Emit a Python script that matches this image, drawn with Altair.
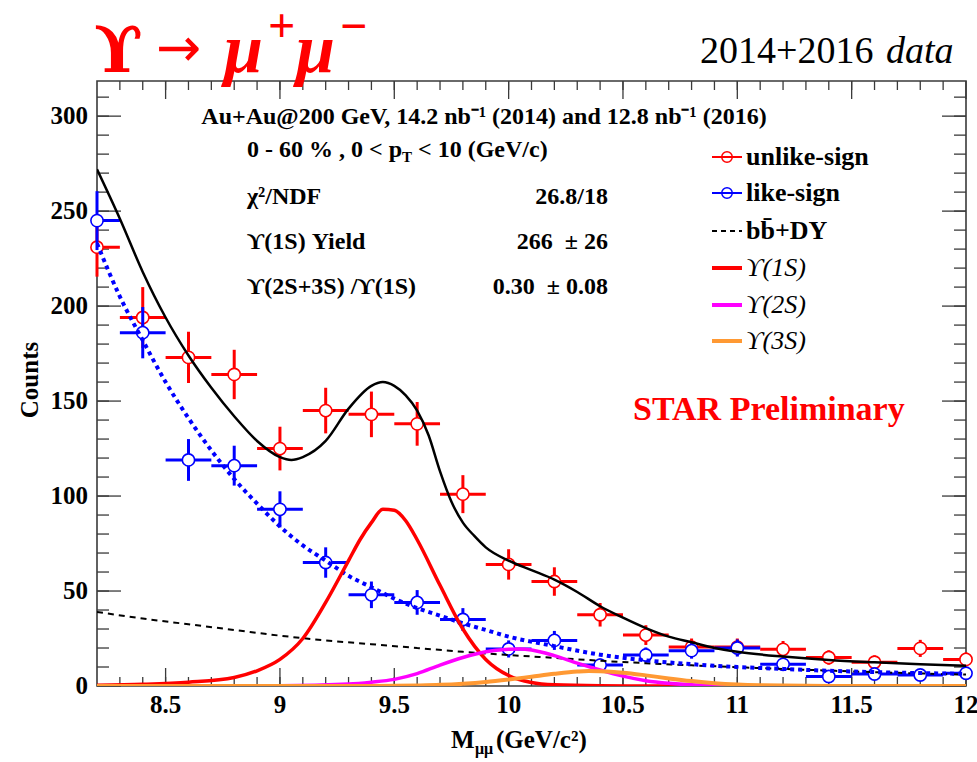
import altair as alt
import numpy as np
import pandas as pd

# ---------------------------------------------------------------------------
# Data: dimuon invariant-mass spectrum, Au+Au 200 GeV (2014 + 2016)
# ---------------------------------------------------------------------------
mass = [8.2, 8.4, 8.6, 8.8, 9.0, 9.2, 9.4, 9.6, 9.8, 10.0,
        10.2, 10.4, 10.6, 10.8, 11.0, 11.2, 11.4, 11.6, 11.8, 12.0]
half_bin = 0.1

unlike_counts = [231, 194, 173, 164, 125, 145, 143, 138, 101, 64,
                 55, 37.5, 26.8, 20.5, 20.5, 19.3, 15, 12.5, 19.8, 14]
unlike_err = [15.5, 16, 13.5, 13, 11.5, 12, 12, 11.5, 10, 8,
              7.5, 6.2, 5.2, 4.5, 4.5, 4.4, 3.8, 3.6, 4.5, 3.7]

like_counts = [245, 186, 119, 116, 93, 65, 48, 44, 35, 19.5,
               24, 11, 16.3, 18.6, 20, 11.4, 5, 6.3, 5.8, 6.7]
like_err = [15.5, 13.5, 11, 10.5, 9.5, 8, 7, 6.5, 6, 4.5,
            5, 3.5, 4, 4.2, 4.5, 3.5, 2.2, 2.5, 2.5, 2.6]

# Total fit
total_m = [8.2, 8.3, 8.4, 8.5, 8.6, 8.7, 8.8, 8.9, 9.0, 9.05, 9.1, 9.2, 9.3,
           9.4, 9.45, 9.5, 9.55, 9.6, 9.65, 9.7, 9.75, 9.8, 9.85, 9.9, 10.0,
           10.1, 10.2, 10.3, 10.4, 10.5, 10.6, 10.7, 10.8, 10.9, 11.0, 11.2,
           11.4, 11.6, 11.8, 12.0]
total_fit = [272, 246, 218, 194, 174, 157, 142, 129, 120.5, 119, 120.5, 129, 146,
             158, 160, 158, 153, 145, 132, 113, 97, 86, 79, 73, 66,
             61, 56, 49.5, 42, 36, 30.5, 26, 23, 20, 18, 15.5,
             13.7, 12.5, 11.5, 10.7]

# Like-sign background fit
like_fit_m = [8.2, 8.3, 8.4, 8.5, 8.6, 8.7, 8.8, 8.9, 9.0, 9.1, 9.2, 9.3, 9.4,
              9.5, 9.6, 9.7, 9.8, 9.9, 10.0, 10.2, 10.4, 10.6, 10.8, 11.0,
              11.2, 11.4, 11.6, 11.8, 12.0]
like_fit = [233, 205, 182, 160, 141, 124, 109, 96, 84, 74, 66, 58, 52,
            46, 41, 37, 33, 29.5, 26, 21, 16.5, 13.5, 11.5, 10,
            9, 8, 7.3, 6.8, 6.4]

# b-bbar + Drell-Yan
dy_m = [8.2, 8.4, 8.6, 8.8, 9.0, 9.2, 9.4, 9.6, 9.8, 10.0,
        10.2, 10.4, 10.6, 10.8, 11.0, 11.2, 11.4, 11.6, 11.8, 12.0]
dy_fit = [39, 35.5, 32.5, 29.5, 26.5, 24, 22, 20, 18, 16.3,
          14.8, 13.3, 12, 10.9, 9.9, 9, 8.1, 7.3, 6.6, 6]

# Upsilon states
u1_m = [8.2, 8.4, 8.6, 8.8, 8.9, 9.0, 9.1, 9.2, 9.3, 9.35, 9.4, 9.45, 9.5,
        9.55, 9.6, 9.7, 9.8, 9.9, 10.0, 10.1, 10.2, 10.4, 10.6, 11.0, 12.0]
u1_fit = [0.4, 0.9, 2, 4.5, 8, 14, 25, 44, 66, 77, 86, 93, 92.5,
          87, 77, 53, 30, 14, 5.5, 1.8, 0.6, 0.1, 0, 0, 0]

u2_m = [8.2, 9.0, 9.3, 9.4, 9.5, 9.6, 9.7, 9.8, 9.9, 10.0, 10.05, 10.1,
        10.2, 10.3, 10.4, 10.5, 10.6, 10.7, 10.8, 10.9, 11.0, 12.0]
u2_fit = [0, 0.1, 1.0, 2.0, 3.5, 6.5, 11, 15, 18, 19.3, 19.5, 19,
          16, 12, 8.4, 5.2, 2.8, 1.4, 0.6, 0.25, 0.1, 0]

u3_m = [8.2, 9.4, 9.6, 9.7, 9.8, 9.9, 10.0, 10.1, 10.2, 10.3, 10.35, 10.4,
        10.5, 10.6, 10.7, 10.8, 10.9, 11.0, 11.1, 11.2, 11.4, 12.0]
u3_fit = [0, 0.05, 0.3, 0.6, 1.2, 2.1, 3.4, 4.9, 6.4, 7.6, 7.9, 7.8,
          7.0, 5.6, 4.0, 2.6, 1.5, 0.8, 0.4, 0.2, 0.05, 0]

x_label_values = [8.5, 9, 9.5, 10, 10.5, 11, 11.5, 12]
y_label_values = [0, 50, 100, 150, 200, 250, 300]

# ---------------------------------------------------------------------------
# Layout / style
# ---------------------------------------------------------------------------
W, H = 869, 605          # plot area
X0, Y0 = 97, 81          # plot origin on the page
SERIF = "Liberation Serif"
RED, BLUE, MAGENTA, ORANGE = "#ff0000", "#0000ff", "#ff00ff", "#ff9933"
FRAME = "#3a3a3a"
NB = "\u00a0"

xs = alt.Scale(domain=[8.2, 12.0], nice=False, zero=False)
ys = alt.Scale(domain=[0, 318.5], nice=False, zero=False)

anchor = pd.DataFrame({"a": [0]})


def note(text, x, y, size=24, color="black", weight="bold", style="normal",
         align="left", baseline="middle", font=SERIF, angle=0):
    return alt.Chart(anchor).mark_text(
        text=text, align=align, baseline=baseline, font=font, fontSize=size,
        fontWeight=weight, fontStyle=style, color=color, angle=angle,
    ).encode(x=alt.value(x - X0), y=alt.value(y - Y0))


def seg(x1, x2, y, color, width, dash=None):
    kw = dict(color=color, strokeWidth=width)
    if dash:
        kw["strokeDash"] = dash
    return alt.Chart(anchor).mark_rule(**kw).encode(
        x=alt.value(x1 - X0), x2=alt.value(x2 - X0), y=alt.value(y - Y0))


# ---------------------------------------------------------------------------
# Tick labels, placed through the shared scales
# ---------------------------------------------------------------------------
x_labels = alt.Chart(pd.DataFrame({"t": x_label_values})).mark_text(
    font=SERIF, fontSize=25, fontWeight="bold", color="black",
    align="center", baseline="middle").encode(
    x=alt.X("t:Q", scale=xs, axis=None), y=alt.value(H + 19),
    text=alt.Text("t:Q", format=".1~f"))

y_labels = alt.Chart(pd.DataFrame({"t": y_label_values})).mark_text(
    font=SERIF, fontSize=25, fontWeight="bold", color="black",
    align="right", baseline="middle").encode(
    y=alt.Y("t:Q", scale=ys, axis=None), x=alt.value(-9),
    text=alt.Text("t:Q", format="d"))

# ---------------------------------------------------------------------------
# Inward ticks on all four sides
# ---------------------------------------------------------------------------
x_major = pd.DataFrame({"t": x_label_values})
x_minor = pd.DataFrame({"t": np.round(np.arange(8.3, 12.0, 0.1), 1)})
y_major = pd.DataFrame({"t": y_label_values})
y_minor = pd.DataFrame({"t": np.arange(10, 320, 10)})


def xticks(df, length):
    base = alt.Chart(df).mark_rule(color=FRAME, strokeWidth=1.3)
    bottom = base.encode(x=alt.X("t:Q", scale=xs, axis=None),
                         y=alt.value(H), y2=alt.value(H - length))
    top = base.encode(x=alt.X("t:Q", scale=xs, axis=None),
                      y=alt.value(0), y2=alt.value(length))
    return bottom + top


def yticks(df, length):
    base = alt.Chart(df).mark_rule(color=FRAME, strokeWidth=1.3)
    left = base.encode(y=alt.Y("t:Q", scale=ys, axis=None),
                       x=alt.value(0), x2=alt.value(length))
    right = base.encode(y=alt.Y("t:Q", scale=ys, axis=None),
                        x=alt.value(W), x2=alt.value(W - length))
    return left + right


ticks = xticks(x_major, 18) + xticks(x_minor, 9) + yticks(y_major, 24) + yticks(y_minor, 12)

# ---------------------------------------------------------------------------
# Data points with error bars
# ---------------------------------------------------------------------------


def points(counts, errs, color):
    df = pd.DataFrame({"m": mass, "n": counts, "e": errs})
    base = alt.Chart(df).transform_calculate(
        mlo=f"datum.m - {half_bin}", mhi=f"datum.m + {half_bin}",
        nlo="datum.n - datum.e", nhi="datum.n + datum.e")
    hbar = base.mark_rule(color=color, strokeWidth=3, clip=True).encode(
        x=alt.X("mlo:Q", scale=xs, axis=None), x2="mhi:Q",
        y=alt.Y("n:Q", scale=ys, axis=None))
    vbar = base.mark_rule(color=color, strokeWidth=3).encode(
        x=alt.X("m:Q", scale=xs, axis=None),
        y=alt.Y("nlo:Q", scale=ys, axis=None), y2="nhi:Q")
    dots = base.mark_point(shape="circle", size=150, filled=True, fill="white",
                           stroke=color, strokeWidth=1.6, opacity=1).encode(
        x=alt.X("m:Q", scale=xs, axis=None),
        y=alt.Y("n:Q", scale=ys, axis=None))
    return hbar + vbar + dots


unlike_layer = points(unlike_counts, unlike_err, RED)
like_layer = points(like_counts, like_err, BLUE)

# ---------------------------------------------------------------------------
# Fit curves
# ---------------------------------------------------------------------------


def curve(xv, yv, color, width, dash=None):
    df = pd.DataFrame({"m": xv, "n": yv})
    kw = dict(color=color, strokeWidth=width, interpolate="monotone", clip=True)
    if dash:
        kw["strokeDash"] = dash
        kw["strokeCap"] = "butt"
    return alt.Chart(df).mark_line(**kw).encode(
        x=alt.X("m:Q", scale=xs, axis=None), y=alt.Y("n:Q", scale=ys, axis=None))


curves = (
    curve(dy_m, dy_fit, "black", 2, [6, 5])
    + curve(like_fit_m, like_fit, BLUE, 4, [4, 4])
    + curve(u1_m, u1_fit, RED, 3.5)
    + curve(u2_m, u2_fit, MAGENTA, 3.5)
    + curve(u3_m, u3_fit, ORANGE, 4)
    + curve(total_m, total_fit, "black", 2.5)
)

# ---------------------------------------------------------------------------
# Texts
# ---------------------------------------------------------------------------
title = (
    note("ϒ", 94, 72, size=64, color=RED, baseline="alphabetic", font="DejaVu Serif")
    + note("→", 156, 50, size=54, color=RED, weight="normal", font="DejaVu Sans")
    + note("μ", 224, 72, size=70, color=RED, style="italic", baseline="alphabetic")
    + note("+", 268, 42, size=48, color=RED, baseline="alphabetic")
    + note("μ", 296, 72, size=70, color=RED, style="italic", baseline="alphabetic")
    + note("−", 340, 42, size=48, color=RED, baseline="alphabetic")
    + note("2014+2016", 700, 63, size=38, weight="normal", baseline="alphabetic")
    + note("data", 886, 63, size=38, weight="normal", style="italic", baseline="alphabetic")
)

info = (
    note("Au+Au@200 GeV, 14.2 nb⁻¹ (2014) and 12.8 nb⁻¹ (2016)", 484, 117, size=24, align="center")
    + note("0 - 60 % , 0 < p", 247, 150, size=24)
    + note("T", 402, 157, size=15)
    + note("< 10 (GeV/c)", 418, 150, size=24)
    + note("χ²/NDF", 247, 197, size=24)
    + note("26.8/18", 608, 197, size=24, align="right")
    + note("ϒ(1S) Yield", 247, 242, size=24)
    + note(f"266{NB}{NB}±{NB}26", 608, 242, size=24, align="right")
    + note("ϒ(2S+3S) /ϒ(1S)", 247, 287, size=24)
    + note(f"0.30{NB}{NB}±{NB}0.08", 608, 287, size=24, align="right")
    + note("STAR Preliminary", 633, 410, size=34, color=RED)
)

legend = (
    seg(712, 742, 157, RED, 2)
    + alt.Chart(anchor).mark_point(shape="circle", size=110, filled=False, color=RED,
                                   strokeWidth=1.5, opacity=1).encode(
        x=alt.value(727 - X0), y=alt.value(157 - Y0))
    + note("unlike-sign", 746, 157, size=26)
    + seg(712, 742, 193, BLUE, 2)
    + alt.Chart(anchor).mark_point(shape="circle", size=110, filled=False, color=BLUE,
                                   strokeWidth=1.5, opacity=1).encode(
        x=alt.value(727 - X0), y=alt.value(193 - Y0))
    + note("like-sign", 746, 193, size=26)
    + seg(712, 742, 231, "black", 2, [5, 4])
    + note("bb̄+DY", 746, 231, size=26)
    + seg(712, 742, 268, RED, 4)
    + note("ϒ(1S)", 746, 268, size=26, weight="normal", style="italic")
    + seg(712, 742, 305, MAGENTA, 4)
    + note("ϒ(2S)", 746, 305, size=26, weight="normal", style="italic")
    + seg(712, 742, 341, ORANGE, 4)
    + note("ϒ(3S)", 746, 341, size=26, weight="normal", style="italic")
)

axis_titles = (
    note("Counts", 30, 380, size=25, align="center", angle=270)
    + note("M", 451, 748, size=25, baseline="alphabetic")
    + note("μμ", 475, 754, size=16, baseline="alphabetic")
    + note("(GeV/c²)", 496, 748, size=25, baseline="alphabetic")
)

chart = alt.layer(
    ticks, x_labels, y_labels, unlike_layer, like_layer, curves,
    title, info, legend, axis_titles
).properties(
    width=W, height=H,
    padding={"left": X0, "top": Y0, "right": 977 - X0 - W, "bottom": 762 - Y0 - H},
    autosize="none", background="white",
).configure_view(stroke=FRAME, strokeWidth=1.6)

chart.save("out.html", embed_options={"renderer": "svg", "actions": False})
